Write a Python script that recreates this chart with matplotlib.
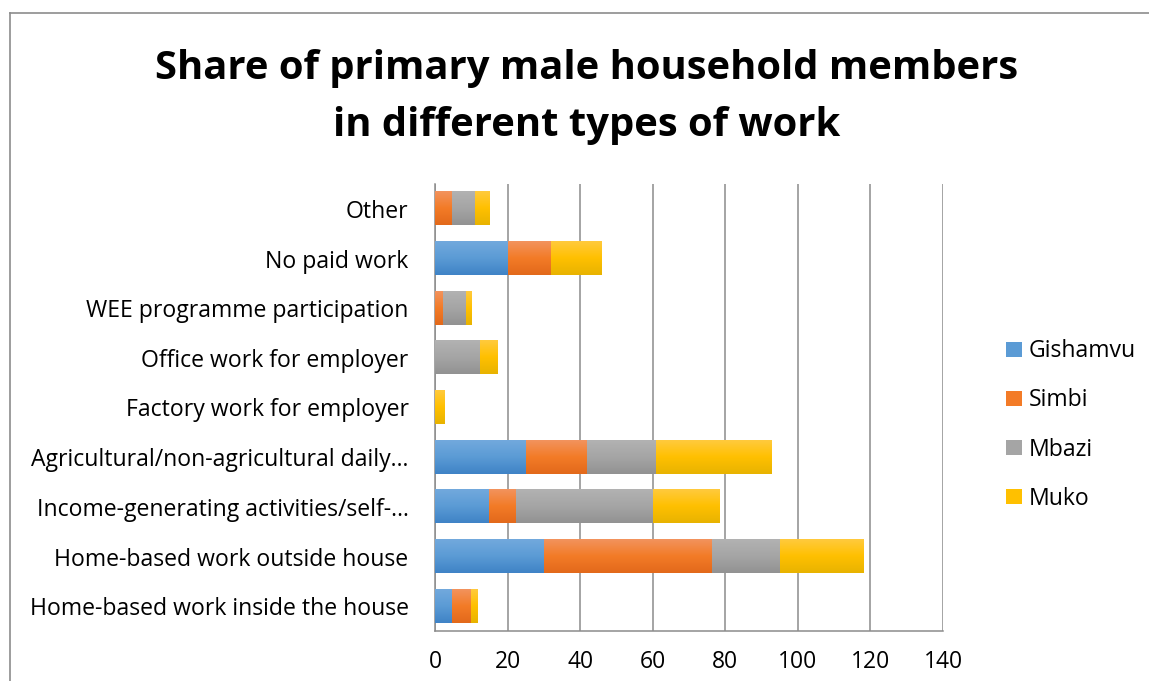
import numpy as np
import matplotlib.pyplot as plt
from matplotlib.colors import LinearSegmentedColormap
from matplotlib.patches import Patch

# work categories, bottom to top
categories = [
    "Home-based work inside the house",
    "Home-based work outside house",
    "Income-generating activities/self-\u2026",
    "Agricultural/non-agricultural daily\u2026",
    "Factory work for employer",
    "Office work for employer",
    "WEE programme participation",
    "No paid work",
    "Other",
]
villages = ["Gishamvu", "Simbi", "Mbazi", "Muko"]

gishamvu = [4.8, 30.0, 15.0, 25.0, 0.0, 0.0, 0.0, 20.0, 0.0]
simbi = [5.0, 46.4, 7.2, 17.0, 0.0, 0.0, 2.3, 12.1, 4.8]
mbazi = [0.0, 18.8, 37.8, 19.0, 0.0, 12.5, 6.3, 0.0, 6.3]
muko = [1.7, 23.1, 18.4, 31.7, 2.6, 4.9, 1.4, 13.8, 3.9]

# light / base / dark shades for the bar gradients
shades = [
    ("#72a9dd", "#5b9bd5", "#3f83c6"),
    ("#f2935d", "#f37b27", "#e2691b"),
    ("#b2b2b2", "#a5a5a5", "#929292"),
    ("#ffca3d", "#ffc000", "#e8b300"),
]

plt.rcParams['font.family'] = ['Open Sans', 'DejaVu Sans']

fig = plt.figure(figsize=(11.49, 6.81), dpi=100)
ax = fig.add_axes([435 / 1149, 50 / 681, 508 / 1149, 447 / 681])

y = np.arange(len(categories))
left = np.zeros(len(categories))
bars = []
for series, (light, base, dark) in zip([gishamvu, simbi, mbazi, muko], shades):
    b = ax.barh(y, series, left=left, height=0.67, color=base, zorder=2)
    bars.append((b, LinearSegmentedColormap.from_list("g", [dark, base, light])))
    left += np.array(series)

# vertical gradient on each bar segment
grad = np.linspace(0, 1, 64).reshape(-1, 1)
for b, cmap in bars:
    for p in b.patches:
        w = p.get_width()
        if w <= 0:
            continue
        x0, y0, h = p.get_x(), p.get_y(), p.get_height()
        ax.imshow(grad, cmap=cmap, extent=[x0, x0 + w, y0, y0 + h],
                  origin='lower', aspect='auto', zorder=3, interpolation='bilinear')

ax.set_xlim(0, 140)
ax.set_ylim(-0.5, len(categories) - 0.5)
ax.set_xticks(np.arange(0, 141, 20))
ax.set_yticks(y)
ax.set_yticklabels(categories, fontsize=16.6)
ax.xaxis.grid(True, color="#8c8c8c", linewidth=1.1, zorder=0)
ax.set_axisbelow(True)
for s in ["top", "right"]:
    ax.spines[s].set_visible(False)
for s in ["left", "bottom"]:
    ax.spines[s].set_color("#8c8c8c")
    ax.spines[s].set_linewidth(1.1)
ax.tick_params(axis='both', length=0, colors="#000000")
ax.tick_params(axis='x', labelsize=16.5, pad=13.5)
ax.tick_params(axis='y', pad=19)

fig.text(587 / 1149, 1 - 97 / 681,
         "Share of primary male household members\nin different types of work",
         ha='center', va='center', fontsize=28.8, fontweight='bold', linespacing=1.63)

handles = [Patch(facecolor=base) for _, base, _ in shades]
fig.legend(handles, villages, loc='center left', bbox_to_anchor=(985 / 1149, 1 - 425 / 681),
           frameon=False, fontsize=16.6, handlelength=0.7, handleheight=0.62,
           handletextpad=0.3, labelspacing=1.09)

# outer chart frame
fig.add_artist(plt.Line2D([10 / 1149, 1], [1 - 13 / 681, 1 - 13 / 681], color="#8c8c8c", lw=1.2))
fig.add_artist(plt.Line2D([10 / 1149, 10 / 1149], [0, 1 - 13 / 681], color="#8c8c8c", lw=1.2))

fig.savefig("out.png", dpi=100)
